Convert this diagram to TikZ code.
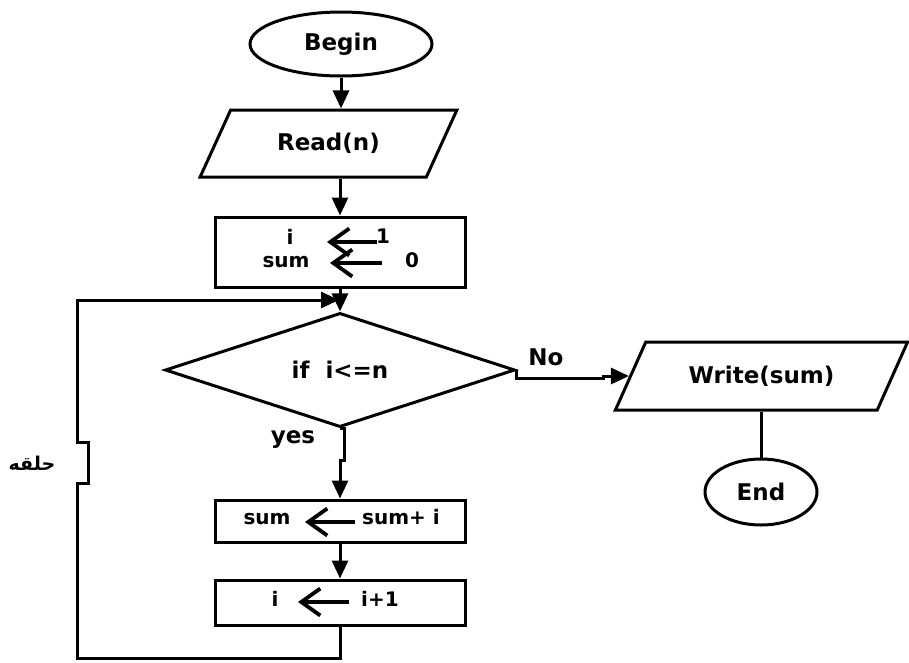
\documentclass[tikz,border=0pt]{standalone}
\usepackage{fontspec}
\setmainfont{DejaVu Sans}
\newfontfamily\arabicfont[Script=Arabic]{DejaVu Sans}
\TeXXeTstate=1
\usetikzlibrary{shapes.geometric,arrows.meta}

\tikzset{
  big/.style={font=\bfseries\fontsize{23}{27}\selectfont},
  small/.style={font=\bfseries\fontsize{20}{24}\selectfont, inner sep=0pt, text height=14pt, text depth=0pt},
  term/.style={ellipse, draw, line width=3pt, inner sep=0pt, big},
  io/.style={trapezium, trapezium stretches=true, draw, line width=3pt, inner sep=0pt, big},
  proc/.style={rectangle, draw, line width=3pt, inner sep=0pt, minimum width=250pt},
  flow/.style={line width=3pt, -{Triangle[length=18pt,width=16pt]}},
  plain/.style={line width=3pt},
  assign/.style={line width=3.8pt, -{Straight Barb[length=19pt,width=27pt]}},
}

\begin{document}
\begin{tikzpicture}[x=1pt,y=-1pt]
        \useasboundingbox (0,0) rectangle (909,662);

        % main column
        \node[term, minimum width=182pt, minimum height=64pt] (begin) at (341,44)    {Begin};
        \node[io, trapezium left angle=52, trapezium right angle=128,
              minimum width=257pt, minimum height=67pt]       (read)  at (328.5,143.5) {Read(n)};
        \node[proc, minimum height=70pt]                       (init)  at (340,252)   {};
        \node[diamond, draw, line width=3pt, inner sep=0pt,
              minimum width=350pt, minimum height=98pt, big]  (cond)  at (340,370)   {if\ \ i<=n};
        \node[proc, minimum height=42pt]                       (addbox) at (340,521)  {};
        \node[proc, minimum height=45pt]                       (incbox) at (340,602.5) {};

        % right column
        \node[io, trapezium left angle=47, trapezium right angle=133,
              minimum width=293pt, minimum height=68pt]       (write) at (761.5,376) {Write(sum)};
        \node[term, minimum width=112pt, minimum height=66pt] (end)   at (761,492)   {End};

        % assignments
        \node[small] (ivar)   at (290,237)   {i};                %
        \node[small] (one)    at (383,236)   {1};                %
        \node[small] (sumvar) at (286,260)   {sum};              %
        \node[small] (zero)   at (412,260)   {0};                %
        \draw[assign] (377,242) -- (327,242);                    % i <- 1
        \draw[assign] (382,263) -- (330,263);                    % sum <- 0

        \node[small] (sumL)   at (267,517)   {sum};              %
        \node[small] (sumR)   at (401,517)   {sum+ i};           %
        \draw[assign] (355,522) -- (305,522);                    % sum <- sum+i

        \node[small] (incL)   at (275,599)   {i};                %
        \node[small] (incR)   at (380,599)   {i+1};              %
        \draw[assign] (349,602) -- (298,602);                    % i <- i+1

        % labels
        \node[big] (nolab)  at (546,357) {No};                   %
        \node[big] (yeslab) at (293,440) {yes};                  %
        \node[font=\arabicfont\bfseries\fontsize{19}{22}\selectfont] (looplab) at (32,463) {\beginR حلقه\endR};

        % connectors
        \coordinate (jogno)   at (603,378);
        \coordinate (jogyes)  at (344,460);
        \coordinate (loopbot) at (77,658);
        \coordinate (bumpA)   at (88,483);
        \coordinate (bumpB)   at (88,442);
        \coordinate (looptop) at (77,300);
        \coordinate (merge)   at (339,300);

        \draw[flow]  (begin) -- (begin |- read.north);                %
        \draw[flow]  (init.north |- read.south) -- (init.north);      %
        \draw[flow]  (init.south) -- (cond.north);                    %
        \draw[flow]  (cond.east) |- (jogno) |- (write);               % No
        \draw[plain] (end.north |- write.south) -- (end.north);       %
        \draw[flow]  (cond.south) -| (jogyes) -| (addbox.north);      % yes
        \draw[flow]  (addbox) -- (incbox);                            %
        \draw[flow]  (incbox.south) |- (loopbot) |- (bumpA) -- (bumpB)
                     -| (looptop) -- (merge);                         % loop back
\end{tikzpicture}
\end{document}
